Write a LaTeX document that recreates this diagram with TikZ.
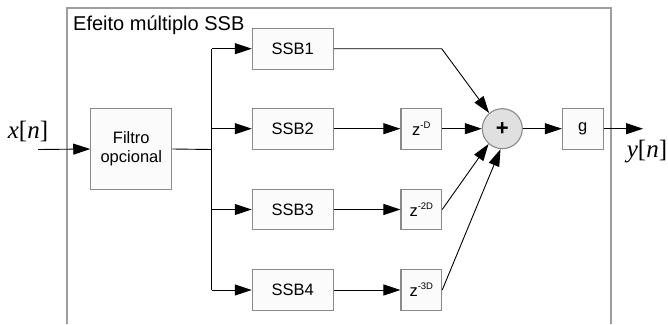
\documentclass[tikz,border=0pt]{standalone}
\usepackage{fontspec}
\setmainfont{Liberation Sans}
\newfontfamily\serifit{Liberation Serif}
\usetikzlibrary{arrows.meta}

\definecolor{framegray}{HTML}{9E9E9E}
\definecolor{boxgray}{HTML}{8A8A8A}
\definecolor{boxfill}{HTML}{FBFBFB}
\definecolor{sumfill}{HTML}{E0E0E0}

% small raised exponent for the delay blocks
\newcommand{\expo}[1]{\raisebox{0.42em}{\fontsize{9.5}{10}\selectfont #1}}

\begin{document}
\begin{tikzpicture}[%
    x=1pt, y=-1pt,
    block/.style={
      rectangle,
      draw=boxgray,
      line width=1.1pt,
      fill=boxfill,
      align=center,
      font=\fontsize{16.5}{19}\selectfont,
      minimum width=81pt,
      minimum height=40.7pt,
      inner sep=0pt
    },
    delay/.style={
      block,
      minimum width=40.7pt
    },
    somador/.style={
      circle,
      draw=boxgray,
      line width=1.1pt,
      fill=sumfill,
      minimum size=40pt,
      inner sep=0pt,
      font=\bfseries\fontsize{22}{22}\selectfont
    },
    line/.style={
      draw,
      line width=0.9pt,
      -{Triangle[length=17pt,width=11pt]}
    },
    sinal/.style={
      font=\serifit\fontsize{25}{25}\selectfont,
      inner sep=0pt
    }
  ]
  \useasboundingbox (0,0) rectangle (668,324);

  % open frame round the SSB bank
  \draw[framegray, line width=1.3pt] (67,324) -- (67,8) -- (611,8) -- (611,324);
  \node[anchor=west, inner sep=0pt, font=\fontsize{20}{22}\selectfont] (titulo) at (73,25) {Efeito múltiplo SSB};

  \node[sinal] (xn) at (28,131) {\textit{x}[\textit{n}]};
  \coordinate (entrada) at (38,149.5);
  \node[block, minimum height=81pt] (filtro) at (131.3,149) {Filtro\\opcional};
  \coordinate (ramo) at (211.7,149.5);

  \node[block] (ssb1) at (292.8,48.7) {SSB1};
  \node[block] (ssb2) at (292.8,128.7) {SSB2};
  \node[block] (ssb3) at (292.8,209.5) {SSB3};
  \node[block] (ssb4) at (292.8,290) {SSB4};

  \node[delay] (atraso1) at (421.3,128.7) {z\expo{-D}};
  \node[delay] (atraso2) at (421.3,209.5) {z\expo{-2D}};
  \node[delay] (atraso3) at (421.3,290) {z\expo{-3D}};

  \node[somador] (soma) at (502.3,128.7) {+};
  \node[delay] (ganho) at (582.8,128.7) {g};
  \coordinate (saida) at (643,128.7);
  \node[sinal] (yn) at (647,152) {\textit{y}[\textit{n}]};

  \coordinate (canto) at (441.7,48.7);

  % input and splitting
  \path[line] (entrada) -- (filtro.west);
  \draw[line width=0.9pt] (filtro.east) -- (ramo);
  \draw[line width=0.9pt] (ramo |- ssb1) -- (ramo |- ssb4);
  \path[line] (ramo |- ssb1) -- (ssb1.west);
  \path[line] (ramo |- ssb2) -- (ssb2.west);
  \path[line] (ramo |- ssb3) -- (ssb3.west);
  \path[line] (ramo |- ssb4) -- (ssb4.west);

  % delays
  \path[line] (ssb2.east) -- (atraso1.west);
  \path[line] (ssb3.east) -- (atraso2.west);
  \path[line] (ssb4.east) -- (atraso3.west);

  % into the adder
  \path[line] (ssb1.east) -- (canto) -- (soma.130);
  \path[line] (atraso1.east) -- (soma.west);
  \path[line] (atraso2.east) -- (soma.228);
  \path[line] (atraso3.east) -- (soma.265);

  % gain and output
  \path[line] (soma.east) -- (ganho.west);
  \path[line] (ganho.east) -- (saida);
\end{tikzpicture}
\end{document}
